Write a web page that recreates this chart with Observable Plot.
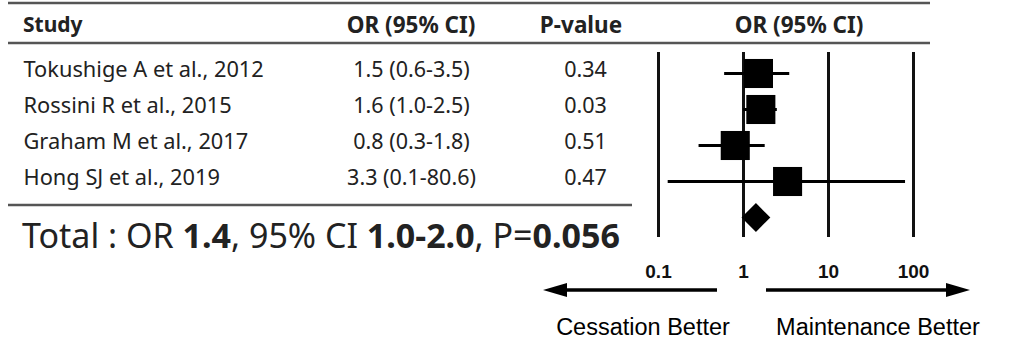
<!DOCTYPE html>
<html>
<head>
<meta charset="utf-8">
<script src="https://cdn.jsdelivr.net/npm/d3@7"></script>
<script src="https://cdn.jsdelivr.net/npm/@observablehq/plot@0.6"></script>
<style>
  html, body { margin: 0; padding: 0; background: #fff; }
  #chart { position: relative; width: 1025px; height: 347px; }
</style>
</head>
<body>
<div id="chart"></div>
<script>
// ---- data ----
const studies = ["Tokushige A et al., 2012", "Rossini R et al., 2015", "Graham M et al., 2017", "Hong SJ et al., 2019"];
const oddsRatios = [1.5, 1.6, 0.8, 3.3];
const ciLower = [0.6, 1.0, 0.3, 0.13];
const ciUpper = [3.5, 2.5, 1.8, 80.6];
const pValues = ["0.34", "0.03", "0.51", "0.47"];
const pooledLabel = ["Total"];
const pooledOR = [1.4];
const pooledLower = [1.0];
const pooledUpper = [2.0];
const pooledP = ["0.056"];
const tickValues = [0.1, 1, 10, 100];
const tickLabels = ["0.1", "1", "10", "100"];
const headers = ["Study", "OR (95% CI)", "P-value", "OR (95% CI)"];
const directionLabels = ["Cessation Better", "Maintenance Better"];

const rows = studies.map((s, i) => ({
  study: s, or: oddsRatios[i], lo: ciLower[i], hi: ciUpper[i], p: pValues[i]
}));
const pooled = pooledLabel.map((s, i) => ({
  study: s, or: pooledOR[i], lo: pooledLower[i], hi: pooledUpper[i], p: pooledP[i]
}));

const tableFont = "'Noto Sans', 'Open Sans', sans-serif";
const arialFont = "'Liberation Sans', Arial, sans-serif";
const fmt = v => v.toFixed(1);

const plot = Plot.plot({
  width: 1025,
  height: 347,
  marginLeft: 0, marginRight: 0, marginTop: 52, marginBottom: 110,
  style: { background: "white", overflow: "visible" },
  x: { type: "log", domain: [0.1, 100], range: [658, 913] },
  y: { type: "point", domain: [...studies, ...pooledLabel], range: [71, 218], padding: 0, axis: null },
  marks: [
    Plot.ruleX(tickValues, { stroke: "#111", strokeWidth: 3 }),
    Plot.axisX({
      ticks: tickValues,
      tickFormat: d => tickLabels[tickValues.indexOf(d)],
      tickSize: 0, tickPadding: 27,
      fontSize: 19, fontWeight: "bold", fontFamily: arialFont, fill: "#111"
    }),
    Plot.ruleY(rows, { y: "study", x1: "lo", x2: "hi", stroke: "#000", strokeWidth: 3 }),
    Plot.dot(rows, { x: "or", y: "study", symbol: "square", r: 16.4, fill: "#000", stroke: "none" }),
    Plot.dot(pooled, { x: "or", y: "study", symbol: "diamond2", r: 13, fill: "#000", stroke: "none" }),
    Plot.text(rows, { text: "study", y: "study", frameAnchor: "left", dx: 23, dy: -3, textAnchor: "start",
      fontSize: 21.8, fontFamily: tableFont, fill: "#222" }),
    Plot.text(rows, { text: d => `${fmt(d.or)} (${fmt(d.lo)}-${fmt(d.hi)})`, y: "study", frameAnchor: "left",
      dx: 411, dy: -3, textAnchor: "middle", fontSize: 21.5, fontFamily: tableFont, fill: "#222" }),
    Plot.text(rows, { text: "p", y: "study", frameAnchor: "left", dx: 585, dy: -3, textAnchor: "middle",
      fontSize: 21.5, fontFamily: tableFont, fill: "#222" })
  ]
});

document.getElementById("chart").appendChild(plot);
const svg = d3.select(plot);
const xs = plot.scale("x");

// table rules
const g = svg.append("g").attr("text-anchor", "start");
g.append("line").attr("x1", 8).attr("x2", 930).attr("y1", 3).attr("y2", 3).attr("stroke", "#555").attr("stroke-width", 2.5);
g.append("line").attr("x1", 8).attr("x2", 930).attr("y1", 43).attr("y2", 43).attr("stroke", "#555").attr("stroke-width", 2.5);
g.append("line").attr("x1", 8).attr("x2", 632).attr("y1", 205).attr("y2", 205).attr("stroke", "#555").attr("stroke-width", 2.5);

// headers
const headerX = [23, 411, 581, 799];
const headerAnchor = ["start", "middle", "middle", "middle"];
const headerSize = [21, 22.5, 22.5, 22.5];
headers.forEach((h, i) => {
  g.append("text").attr("x", headerX[i]).attr("y", 25).attr("dy", "0.35em")
    .attr("text-anchor", headerAnchor[i])
    .attr("font-family", tableFont).attr("font-size", headerSize[i]).attr("font-weight", "bold").attr("fill", "#222")
    .text(h);
});

// total line
const pr = pooled[0];
const tt = g.append("text").attr("x", 22).attr("y", 236).attr("dy", "0.36em").attr("text-anchor", "start")
  .attr("font-family", tableFont).attr("font-size", 34).attr("fill", "#222");
tt.append("tspan").text(`${pr.study} : OR `);
tt.append("tspan").attr("font-weight", "bold").text(fmt(pr.or));
tt.append("tspan").text(", 95% CI ");
tt.append("tspan").attr("font-weight", "bold").text(`${fmt(pr.lo)}-${fmt(pr.hi)}`);
tt.append("tspan").text(", P=");
tt.append("tspan").attr("font-weight", "bold").text(pr.p);

// direction arrows
const ay = 290;
function arrow(xStart, xTip) {
  const dir = Math.sign(xTip - xStart);
  const headLen = 24, headHalf = 7;
  g.append("line").attr("x1", xStart).attr("x2", xTip - dir * headLen + dir * 2)
    .attr("y1", ay).attr("y2", ay).attr("stroke", "#000").attr("stroke-width", 3.5);
  g.append("path")
    .attr("d", `M${xTip},${ay} L${xTip - dir * headLen},${ay - headHalf} L${xTip - dir * headLen},${ay + headHalf} Z`)
    .attr("fill", "#000");
}
arrow(xs.apply(1) - 26, xs.apply(0.1) - 115);
arrow(xs.apply(1) + 23, xs.apply(100) + 57);

const labelX = [643, 878];
directionLabels.forEach((t, i) => {
  g.append("text").attr("x", labelX[i]).attr("y", 327).attr("dy", "0.35em")
    .attr("text-anchor", "middle").attr("font-family", arialFont).attr("font-size", 23.5).attr("fill", "#000")
    .text(t);
});
</script>
</body>
</html>
